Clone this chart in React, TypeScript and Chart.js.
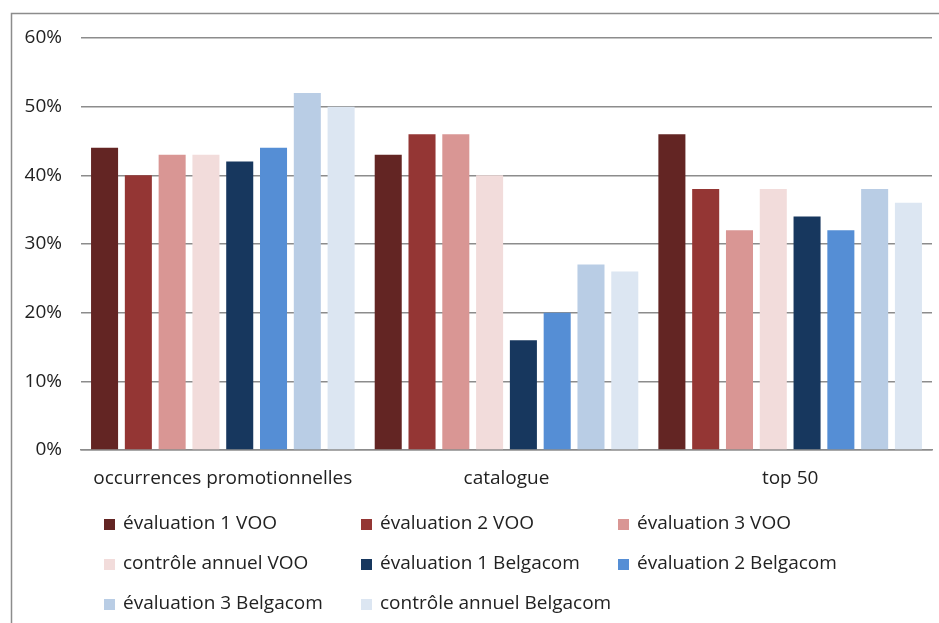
import React, { useEffect, useRef } from "react";
import { Chart, registerables } from "chart.js";

Chart.register(...registerables);

const categories = ["occurrences promotionnelles", "catalogue", "top 50"];
const seriesNames = [
  "évaluation 1 VOO",
  "évaluation 2 VOO",
  "évaluation 3 VOO",
  "contrôle annuel VOO",
  "évaluation 1 Belgacom",
  "évaluation 2 Belgacom",
  "évaluation 3 Belgacom",
  "contrôle annuel Belgacom",
];
const eval1VOO = [44, 43, 46];
const eval2VOO = [40, 46, 38];
const eval3VOO = [43, 46, 32];
const annuelVOO = [43, 40, 38];
const eval1Belgacom = [42, 16, 34];
const eval2Belgacom = [44, 20, 32];
const eval3Belgacom = [52, 27, 38];
const annuelBelgacom = [50, 26, 36];
const seriesValues = [
  eval1VOO,
  eval2VOO,
  eval3VOO,
  annuelVOO,
  eval1Belgacom,
  eval2Belgacom,
  eval3Belgacom,
  annuelBelgacom,
];
const colors = [
  "#632523",
  "#943634",
  "#D99694",
  "#F2DCDB",
  "#17375E",
  "#558ED5",
  "#B9CDE5",
  "#DCE6F2",
];
const yTicks = [0, 10, 20, 30, 40, 50, 60];

const FONT = "'Open Sans', Lato, sans-serif";
const TEXT = "#222222";
const FS = 19;

const legendPlugin = {
  id: "gridLegend",
  afterDraw(chart: any) {
    const ctx = chart.ctx;
    const area = chart.chartArea;
    const cols = [104, 361, 618];
    const rowY0 = area.bottom + 74;
    const rowGap = 40;
    ctx.save();
    ctx.font = `${FS}px ${FONT}`;
    ctx.textBaseline = "middle";
    ctx.textAlign = "left";
    chart.data.datasets.forEach((ds: any, i: number) => {
      const col = i % 3;
      const row = Math.floor(i / 3);
      const x = cols[col];
      const y = rowY0 + row * rowGap;
      ctx.fillStyle = ds.backgroundColor;
      ctx.fillRect(x, y - 5, 11, 11);
      ctx.fillStyle = TEXT;
      ctx.fillText(ds.label, x + 19, y);
    });
    ctx.restore();
  },
};

const framePlugin = {
  id: "frame",
  beforeDraw(chart: any) {
    const ctx = chart.ctx;
    ctx.save();
    ctx.strokeStyle = "#8c8c8c";
    ctx.lineWidth = 1.5;
    ctx.beginPath();
    ctx.moveTo(11.5, chart.height + 2);
    ctx.lineTo(11.5, 13.5);
    ctx.lineTo(chart.width + 2, 13.5);
    ctx.stroke();
    ctx.restore();
  },
};

export default function App() {
  const ref = useRef<HTMLCanvasElement>(null);
  useEffect(() => {
    if (!ref.current) return;
    const chart = new Chart(ref.current, {
      type: "bar",
      data: {
        labels: categories,
        datasets: seriesNames.map((name, i) => ({
          label: name,
          data: seriesValues[i],
          backgroundColor: colors[i],
          borderWidth: 0,
          categoryPercentage: 0.953,
          barPercentage: 0.8,
        })),
      },
      options: {
        animation: false,
        responsive: false,
        maintainAspectRatio: false,
        layout: { padding: { top: 38, right: 7, bottom: 0, left: 0 } },
        plugins: {
          legend: { display: false },
          tooltip: { enabled: false },
        },
        scales: {
          x: {
            afterFit(scale: any) {
              scale.height = 173;
            },
            grid: { display: false, drawTicks: false },
            border: { display: true, color: "#8c8c8c", width: 1.5 },
            ticks: {
              padding: 17,
              color: TEXT,
              font: { family: FONT, size: FS },
              maxRotation: 0,
            },
          },
          y: {
            min: 0,
            max: 60,
            afterFit(scale: any) {
              scale.width = 81;
            },
            afterBuildTicks(scale: any) {
              scale.ticks = yTicks.map((v) => ({ value: v }));
            },
            grid: { color: "#8c8c8c", lineWidth: 1.5, drawTicks: false },
            border: { display: false },
            ticks: {
              padding: 19,
              color: TEXT,
              font: { family: FONT, size: FS },
              callback: (v: any) => `${v}%`,
            },
          },
        },
      },
      plugins: [framePlugin, legendPlugin],
    });
    return () => chart.destroy();
  }, []);
  return (
    <div
      style={{
        position: "absolute",
        left: 0,
        top: 0,
        width: 939,
        height: 623,
        overflow: "hidden",
        background: "#fff",
      }}
    >
      <canvas ref={ref} width={939} height={623} style={{ display: "block" }} />
    </div>
  );
}
